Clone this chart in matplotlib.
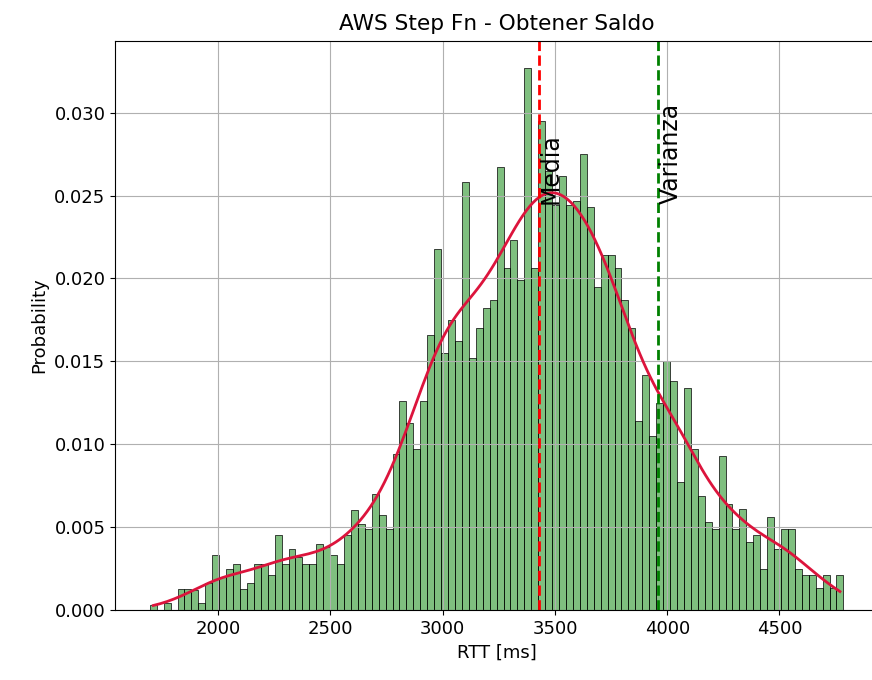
import numpy as np
import pandas as pd
import matplotlib

matplotlib.use("Agg")
import matplotlib.pyplot as plt
import seaborn as sns

# histogram: 100 bins, probability per bin
bin_start = 1695.0
bin_width = 30.9
probs = [
    0.0003, 0.0, 0.0004, 0.0, 0.00125, 0.00125, 0.0012, 0.0004, 0.0016, 0.0033,
    0.0020, 0.0025, 0.0028, 0.00125, 0.0016, 0.0028, 0.0028, 0.0021, 0.0045, 0.0028,
    0.0037, 0.0032, 0.0028, 0.0028, 0.0040, 0.0038, 0.0033, 0.0028, 0.0045, 0.0060,
    0.0052, 0.0049, 0.0070, 0.0057, 0.0049, 0.0094, 0.0126, 0.0113, 0.0097, 0.0126,
    0.0166, 0.0218, 0.0155, 0.0175, 0.0162, 0.0258, 0.0152, 0.0170, 0.0182, 0.0187,
    0.0267, 0.0206, 0.0223, 0.0199, 0.0327, 0.0206, 0.0295, 0.0265, 0.0244, 0.0262,
    0.0244, 0.0247, 0.0275, 0.0243, 0.0195, 0.0214, 0.0214, 0.0206, 0.0187, 0.0170,
    0.0114, 0.0142, 0.0105, 0.0125, 0.0150, 0.0138, 0.0077, 0.0134, 0.0097, 0.0069,
    0.0053, 0.0049, 0.0093, 0.0064, 0.0049, 0.0061, 0.0041, 0.0045, 0.0025, 0.0056,
    0.0037, 0.0049, 0.0049, 0.0025, 0.0021, 0.0021, 0.0013, 0.0021, 0.0013, 0.0021,
]
media = 3429
varianza = 3961

edges = bin_start + bin_width * np.arange(len(probs) + 1)
df = pd.DataFrame({"rtt": (edges[:-1] + edges[1:]) / 2, "prob": probs})

fig = plt.figure(figsize=(8.72, 6.8), dpi=100)
ax = fig.add_axes([0.132, 0.103, 0.875, 0.837])

sns.histplot(
    data=df,
    x="rtt",
    weights="prob",
    bins=list(edges),
    kde=True,
    color="green",
    kde_kws={"bw_adjust": 0.45, "cut": 0},
    line_kws={"linewidth": 2},
    ax=ax,
)
ax.lines[0].set_color("crimson")

ax.axvline(media, color="red", linestyle="--", linewidth=2)
ax.axvline(varianza, color="green", linestyle="--", linewidth=2)
ax.text(media, 0.0245, "Media", rotation=90, va="bottom", fontsize=17)
ax.text(varianza, 0.0245, "Varianza", rotation=90, va="bottom", fontsize=17)

ax.set_title("AWS Step Fn - Obtener Saldo", fontsize=15.6, pad=8)
ax.set_xlabel("RTT [ms]", fontsize=13)
ax.set_ylabel("Probability", fontsize=13)
ax.tick_params(labelsize=13)
ax.grid(True)

fig.savefig("out.png")
